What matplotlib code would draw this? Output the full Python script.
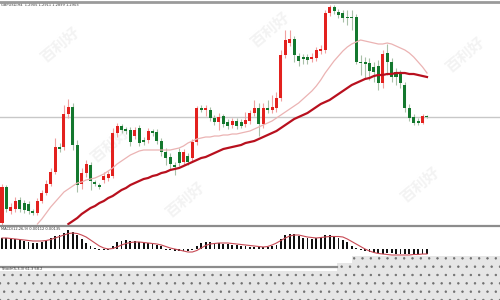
import numpy as np
import matplotlib
matplotlib.use("Agg")
import matplotlib.pyplot as plt
from matplotlib.patches import Polygon

# ---- data (price units, arbitrary scale) ----
opens = [7, 43, 19, 21, 30, 27, 26, 19, 17, 29, 37, 46, 58, 83, 83, 116, 123, 85, 46, 57,
         65, 48, 45, 50, 52, 54, 97, 104, 101, 100, 94, 102, 90, 90, 99, 98, 89, 78, 73, 65,
         78, 68, 74, 72, 88, 122, 120, 120, 112, 108, 114, 108, 105, 109, 108, 106, 109, 117, 122, 106,
         122, 120, 122, 132, 175, 187, 191, 174, 173, 173, 171, 172, 179, 180, 217, 223, 218, 217, 213, 213,
         213, 168, 168, 167, 163, 164, 147, 177, 168, 158, 156, 145, 122, 113, 109, 107, 114]
highs = [46, 45, 27, 33, 33, 30, 29, 21, 32, 40, 50, 62, 92, 87, 125, 131, 127, 90, 62, 70,
         68, 50, 47, 58, 59, 102, 107, 106, 103, 103, 103, 105, 93, 102, 101, 101, 92, 82, 77, 68,
         82, 81, 77, 91, 124, 125, 125, 123, 115, 117, 116, 111, 112, 112, 111, 118, 120, 130, 127, 127,
         130, 135, 138, 180, 200, 200, 194, 177, 176, 176, 177, 183, 185, 220, 225, 225, 221, 220, 220, 220,
         216, 175, 173, 172, 168, 170, 180, 186, 172, 162, 160, 148, 126, 116, 112, 116, 115]
lows = [4, 18, 16, 18, 18, 17, 16, 15, 15, 27, 35, 44, 56, 78, 80, 112, 80, 38, 41, 53,
        40, 44, 41, 47, 49, 52, 93, 97, 96, 84, 91, 84, 85, 87, 94, 86, 74, 65, 60, 55,
        64, 65, 65, 69, 85, 118, 114, 109, 105, 100, 103, 101, 102, 101, 102, 103, 106, 114, 94, 102,
        117, 117, 118, 129, 172, 184, 168, 164, 166, 166, 168, 169, 176, 177, 214, 216, 212, 208, 205, 200,
        166, 155, 152, 150, 148, 140, 142, 155, 148, 145, 142, 118, 109, 105, 105, 106, 112]
closes = [43, 21, 23, 29, 21, 20, 19, 17, 29, 37, 46, 58, 83, 81, 116, 123, 85, 45, 57, 66,
          49, 46, 43, 54, 56, 97, 104, 100, 99, 88, 100, 87, 88, 99, 97, 89, 78, 72, 66, 63,
          67, 78, 68, 88, 122, 120, 122, 112, 108, 113, 106, 104, 109, 104, 104, 110, 117, 122, 106, 122,
          120, 123, 132, 175, 190, 191, 175, 169, 171, 170, 173, 180, 181, 217, 223, 219, 215, 212, 212, 212,
          168, 167, 166, 159, 158, 147, 176, 168, 153, 153, 147, 122, 112, 107, 107, 114, 113]

# moving averages (fast starts at bar 9, slow at bar 16)
ma_fast = [6, 11, 17, 23, 28, 33, 38, 41, 44, 47, 48, 50, 51, 52, 54, 56, 59, 62, 66, 69,
           72, 75, 77, 79, 80, 80, 80, 80, 80, 80, 80, 81, 82, 84, 87, 89, 91, 92, 93, 93,
           94, 94, 95, 95, 96, 96, 97, 98, 99, 101, 103, 105, 107, 109, 112, 115, 118, 121, 124, 127,
           131, 135, 139, 144, 150, 157, 163, 169, 174, 179, 183, 186, 188, 190, 189, 188, 187, 186, 186, 187,
           186, 184, 182, 180, 177, 173, 168, 163, 157]
ma_slow = [6, 9, 12, 16, 19, 22, 24, 27, 29, 32, 34, 37, 40, 42, 45, 47, 49, 51, 52, 54,
           55, 57, 58, 60, 61, 62, 64, 66, 68, 70, 72, 73, 75, 77, 79, 81, 82, 83, 84, 85,
           87, 88, 89, 91, 93, 95, 97, 99, 102, 105, 108, 111, 113, 115, 117, 120, 123, 126, 128, 130,
           133, 136, 139, 142, 145, 147, 149, 151, 152, 154, 155, 155, 156, 156, 157, 157, 157, 156, 156, 155,
           154, 153]
fast_start, slow_start = 9, 16

# MACD histogram and signal
macd_hist = [11, 11, 11, 10, 9, 8.5, 7.5, 6.5, 6.5, 7, 8.5, 11, 13, 14, 16, 19, 17, 14, 10, 6.5,
             3, 1, 0.5, 0.5, 0.5, 3, 7.5, 8.5, 9, 8.5, 8.5, 7.5, 6.5, 6, 5.5, 4.5, 3, 0.5, -1, -1.5,
             -2, -2, -1.5, -0.5, 3, 6, 7.5, 7.5, 6.5, 6, 5.5, 5, 4.5, 4, 3.5, 3, 2.5, 2, 2, 2,
             2, 3, 4.5, 10, 14, 15.5, 15, 13, 11.5, 11, 10, 11, 12, 14, 14, 13, 11.5, 9.5, 7.5, 3,
             1, 0.3, -1.5, -2.5, -4, -4, -4.5, -4, -4, -4.5, -5, -5, -5, -5, -5, -5, -5]
macd_signal = [11, 11, 10.5, 10, 9.5, 9, 8.5, 8, 8, 8, 8.5, 9.5, 11, 12.5, 14, 15.5, 16, 15.5, 14, 12,
               9, 6, 3, 1, 0, 0.5, 2, 4, 5.5, 6.5, 7, 7, 6.5, 6, 5.5, 5, 4, 2.5, 1, 0,
               -1, -2, -3, -3, -1.5, 1, 3.5, 5, 5.5, 6, 6, 6, 5.5, 5, 4.5, 4, 3.5, 3, 2.5, 2,
               2.5, 4, 6, 8.5, 11, 13, 14, 14, 13, 12, 11.5, 11, 11.5, 12, 12.5, 12.5, 12.5, 12, 10, 7.5,
               5, 2.5, 0, -2, -3.5, -4.5, -5, -5.5, -6, -6, -6, -6, -6, -5.5, -5.5, -5, -5]

title_main = "GBPUSD,H4  1.2905 1.2911 1.2899 1.2903"
title_macd = "MACD(12,26,9) 0.00112 0.00135"
title_stoch = "Stoch(5,3,3) 61.3 58.2"
watermark = "百利好"

UP = "#e3211e"
DOWN = "#14782e"

plt.rcParams['font.family'] = ['Noto Sans CJK SC', 'DejaVu Sans']
plt.rcParams['hatch.linewidth'] = 0.5

fig = plt.figure(figsize=(5, 3), dpi=100)
fig.patch.set_facecolor("white")

idx = np.arange(1, len(opens) + 1)
o = np.array(opens, float)
c = np.array(closes, float)
up = c >= o
xl = (1 - 2 / 4.427, 1 + 498 / 4.427)

# ---- main price panel ----
ax = fig.add_axes([0, 1 - 225 / 300, 1, 222 / 300])
ax.set_xlim(*xl)
ax.set_ylim(5, 227)
ax.axis("off")
ax.axhline(113, color="#c8c8c8", lw=1.0, zorder=1)

for wm_x, wm_y in [(60, 185), (270, 200), (185, 30), (420, 45), (465, 175), (110, 85)]:
    ax.text(wm_x / 4.427 + 0.55, wm_y, watermark, fontsize=11, color="#f3f3f3",
            rotation=40, ha="center", va="center", fontweight="bold", zorder=0)

ax.vlines(idx[up], np.array(lows)[up], np.array(highs)[up], color="#f0a0a0", lw=0.8, zorder=2)
ax.vlines(idx[~up], np.array(lows)[~up], np.array(highs)[~up], color="#a8c0a8", lw=0.8, zorder=2)
body = np.where(np.abs(c - o) < 1.2, np.sign(c - o + 0.01) * 1.2, c - o)
ax.bar(idx[up], body[up], bottom=o[up], width=0.68, color=UP, zorder=3)
ax.bar(idx[~up], body[~up], bottom=o[~up], width=0.68, color=DOWN, zorder=3)

ax.plot(idx[fast_start - 1:], ma_fast, color="#ebb3b3", lw=0.9, zorder=4)
ax.plot(idx[slow_start - 1:], ma_slow, color="#b8101e", lw=1.6, zorder=4)

ax.text(0.8, 224.5, title_main, fontsize=2.6, color="#333333", va="center", family="DejaVu Sans")

# ---- MACD panel ----
ax2 = fig.add_axes([0, 1 - 267 / 300, 1, 41 / 300])
ax2.set_xlim(*xl)
ax2.set_ylim(-18, 23)
ax2.axis("off")
h = np.array(macd_hist)
h = np.where(np.abs(h) < 0.8, -0.8, h)
ax2.bar(idx, h, width=0.42, color="#111111", zorder=2)
ax2.plot(idx, macd_signal, color="#c84a55", lw=0.8, zorder=3)
ax2.text(0.8, 20, title_macd, fontsize=2.6, color="#333333", va="center", family="DejaVu Sans")

# ---- separators ----
for yy, lw, col in [(1.5, 2.0, "#9a9a9a"), (225.5, 1.6, "#8c8c8c")]:
    fig.add_artist(plt.Line2D([0, 1], [1 - yy / 300] * 2, color=col, lw=lw))
fig.add_artist(plt.Line2D([0, 337 / 500], [1 - 267 / 300] * 2, color="#8c8c8c", lw=1.6))

# ---- stochastic panel covered by dotted overlay ----
pts = [(0, 271), (337, 271), (337, 263), (352, 263), (352, 256), (500, 256), (500, 300), (0, 300)]
poly = Polygon([(px / 500, 1 - py / 300) for px, py in pts], closed=True,
               transform=fig.transFigure, facecolor="#e6e6e6", edgecolor="#6f6f6f",
               hatch="..", lw=0)
fig.add_artist(poly)
fig.text(2 / 500, 1 - 269.5 / 300, title_stoch, fontsize=2.6, color="#333333",
         va="center", family="DejaVu Sans")

fig.savefig("out.png", dpi=100)
